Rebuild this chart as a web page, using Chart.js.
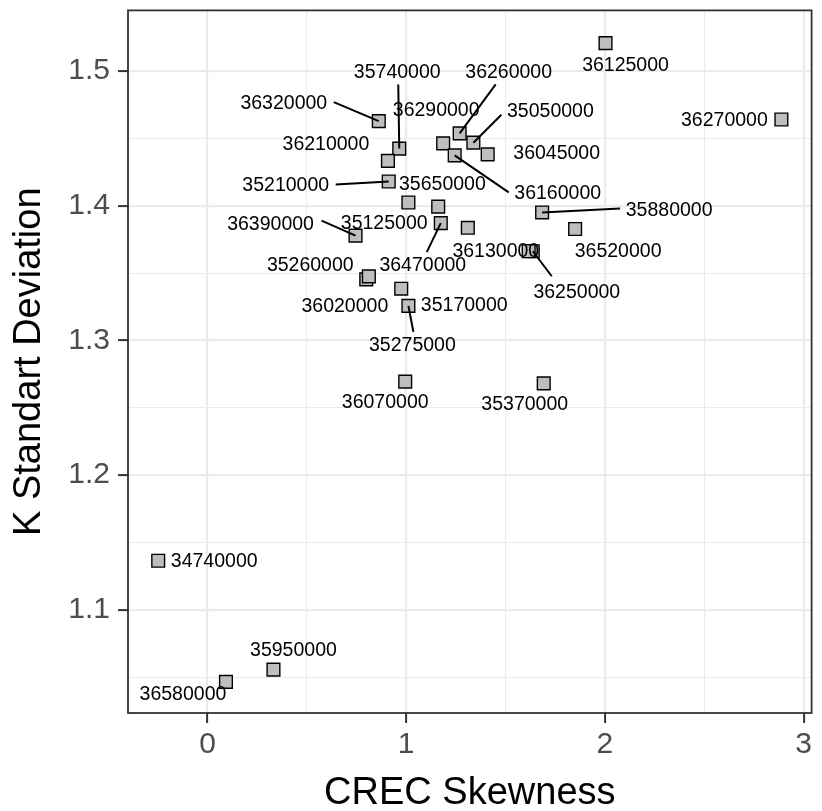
<!DOCTYPE html>
<html>
<head>
<meta charset="utf-8">
<script src="https://cdn.jsdelivr.net/npm/chart.js@4/dist/chart.umd.min.js"></script>
<style>
  html, body { margin: 0; padding: 0; background: #fff; }
</style>
</head>
<body>
<canvas id="chart" width="822" height="811"></canvas>
<script>
// station ids (null = point without a label), CREC skewness, K standard deviation
const stations = ["36125000", "36270000", "35740000", "36260000", "36320000", "36290000", "35050000",
  "36210000", "36045000", "35210000", "35650000", "36160000", "35880000", "36390000", "35125000",
  "35260000", "36020000", "36470000", "36130000", "36520000", "36250000", null, "35170000",
  "35275000", "36070000", "35370000", "34740000", "35950000", "36580000"];
const skewness = [2.003, 2.888, 0.965, 1.269, 0.862, 1.186, 1.338,
  0.908, 1.410, 0.912, 1.011, 1.244, 1.684, 0.745, 1.161,
  0.799, 0.812, 1.174, 1.310, 1.850, 1.637, 1.616, 0.975,
  1.011, 0.995, 1.692, -0.248, 0.332, 0.093];
const stdDev = [1.5207, 1.4640, 1.4424, 1.4537, 1.4628, 1.4463, 1.4468,
  1.4333, 1.4381, 1.4180, 1.4024, 1.4374, 1.3950, 1.3778, 1.3993,
  1.3453, 1.3475, 1.3871, 1.3836, 1.3827, 1.3662, 1.3662, 1.3384,
  1.3256, 1.2694, 1.2681, 1.1364, 1.0556, 1.0465];

const xMajor = [0, 1, 2, 3];
const xMinor = [0.5, 1.5, 2.5];
const yMajor = [1.1, 1.2, 1.3, 1.4, 1.5];
const yMinor = [1.05, 1.15, 1.25, 1.35, 1.45];

// where each label sits relative to its point (px)
const labelShift = [[20, 22], [-57, 1], [-2, -76], [49, -61], [-95, -17], [-7, -33], [77, -31],
  [-62, -16], [69, -1], [-103, 4], [34, -18], [103, 38], [127, -2], [-85, -11], [-54, 17],
  [-56, -14], [-24, 30], [-18, 43], [28, 24], [43, 23], [44, 41], null, [63, 17],
  [4, 40], [-20, 21], [-19, 21], [56, 1], [20, -19], [-43, 13]];
// start of the leader line, relative to the label centre (null = no line)
const leaderFrom = [null, null, [1, 12], [-13, 12], [50, -2], null, [-49, 3],
  null, null, [50, -1], null, [-49, -1], [-49, -2], [51, -4], null,
  null, null, [4, -14], null, null, [-25, -16], null, null,
  [1, -14], null, null, null, null, null];

const FONT = '"Liberation Sans", Arial, Helvetica, sans-serif';
Chart.defaults.font.family = FONT;

const has = (list, v) => list.some(m => Math.abs(m - v) < 1e-6);
const tickList = list => list.slice().sort((a, b) => a - b).map(v => ({ value: v }));

const pointLabels = {
  id: "pointLabels",
  afterDatasetsDraw(chart) {
    const ctx = chart.ctx;
    const pts = chart.getDatasetMeta(0).data;
    ctx.save();
    ctx.font = "19.5px " + FONT;
    ctx.textAlign = "center";
    ctx.textBaseline = "middle";
    ctx.strokeStyle = "#000";
    ctx.lineWidth = 2;
    stations.forEach((name, i) => {
      if (!name) return;
      const p = pts[i];
      const cx = p.x + labelShift[i][0];
      const cy = p.y + labelShift[i][1];
      const lead = leaderFrom[i];
      if (lead) {
        ctx.beginPath();
        ctx.moveTo(cx + lead[0], cy + lead[1]);
        ctx.lineTo(p.x, p.y);
        ctx.stroke();
      }
      ctx.fillStyle = "#000";
      ctx.fillText(name, cx, cy);
    });

    // panel border
    const a = chart.chartArea;
    ctx.strokeStyle = "#333";
    ctx.lineWidth = 1.8;
    ctx.strokeRect(a.left, a.top, a.right - a.left, a.bottom - a.top);
    ctx.restore();
  }
};

const gridStyle = major => ({
  color: "#ebebeb",
  lineWidth: c => (c.tick && has(major, c.tick.value) ? 2.2 : 1.1),
  drawTicks: true,
  tickLength: 10,
  tickWidth: 2,
  tickColor: c => (c.tick && has(major, c.tick.value) ? "#333" : "rgba(0,0,0,0)")
});

new Chart(document.getElementById("chart"), {
  type: "scatter",
  data: {
    datasets: [{
      data: skewness.map((x, i) => ({ x: x, y: stdDev[i] })),
      pointStyle: "rect",
      pointRadius: 9,
      backgroundColor: "#bebebe",
      borderColor: "#000",
      borderWidth: 1.4
    }]
  },
  options: {
    responsive: false,
    animation: false,
    events: [],
    layout: { padding: { left: 0, right: 3, top: 7, bottom: 0 } },
    plugins: { legend: { display: false }, tooltip: { enabled: false } },
    scales: {
      x: {
        type: "linear",
        min: -0.4,
        max: 3.04,
        afterBuildTicks: s => { s.ticks = tickList(xMajor.concat(xMinor)); },
        afterFit: s => { s.height = 98; s.paddingLeft = 0; s.paddingRight = 0; },
        ticks: {
          autoSkip: false,
          maxRotation: 0,
          padding: 4,
          color: "#4d4d4d",
          font: { size: 30 },
          callback: v => (has(xMajor, v) ? String(v) : "")
        },
        grid: gridStyle(xMajor),
        border: { display: false },
        title: {
          display: true,
          text: "CREC Skewness",
          color: "#000",
          font: { size: 38, lineHeight: 0.9 },
          padding: { top: 0, bottom: 0 }
        }
      },
      y: {
        type: "linear",
        min: 1.0234,
        max: 1.545,
        afterBuildTicks: s => { s.ticks = tickList(yMajor.concat(yMinor)); },
        afterFit: s => { s.width = 128; s.paddingTop = 0; s.paddingBottom = 0; },
        ticks: {
          autoSkip: false,
          padding: 8,
          color: "#4d4d4d",
          font: { size: 30 },
          callback: v => (has(yMajor, v) ? v.toFixed(1) : "")
        },
        grid: gridStyle(yMajor),
        border: { display: false },
        title: {
          display: true,
          text: "K Standart Deviation",
          color: "#000",
          font: { size: 38, lineHeight: 0.9 },
          padding: { top: 12.7, bottom: 0 }
        }
      }
    }
  },
  plugins: [pointLabels]
});
</script>
</body>
</html>
